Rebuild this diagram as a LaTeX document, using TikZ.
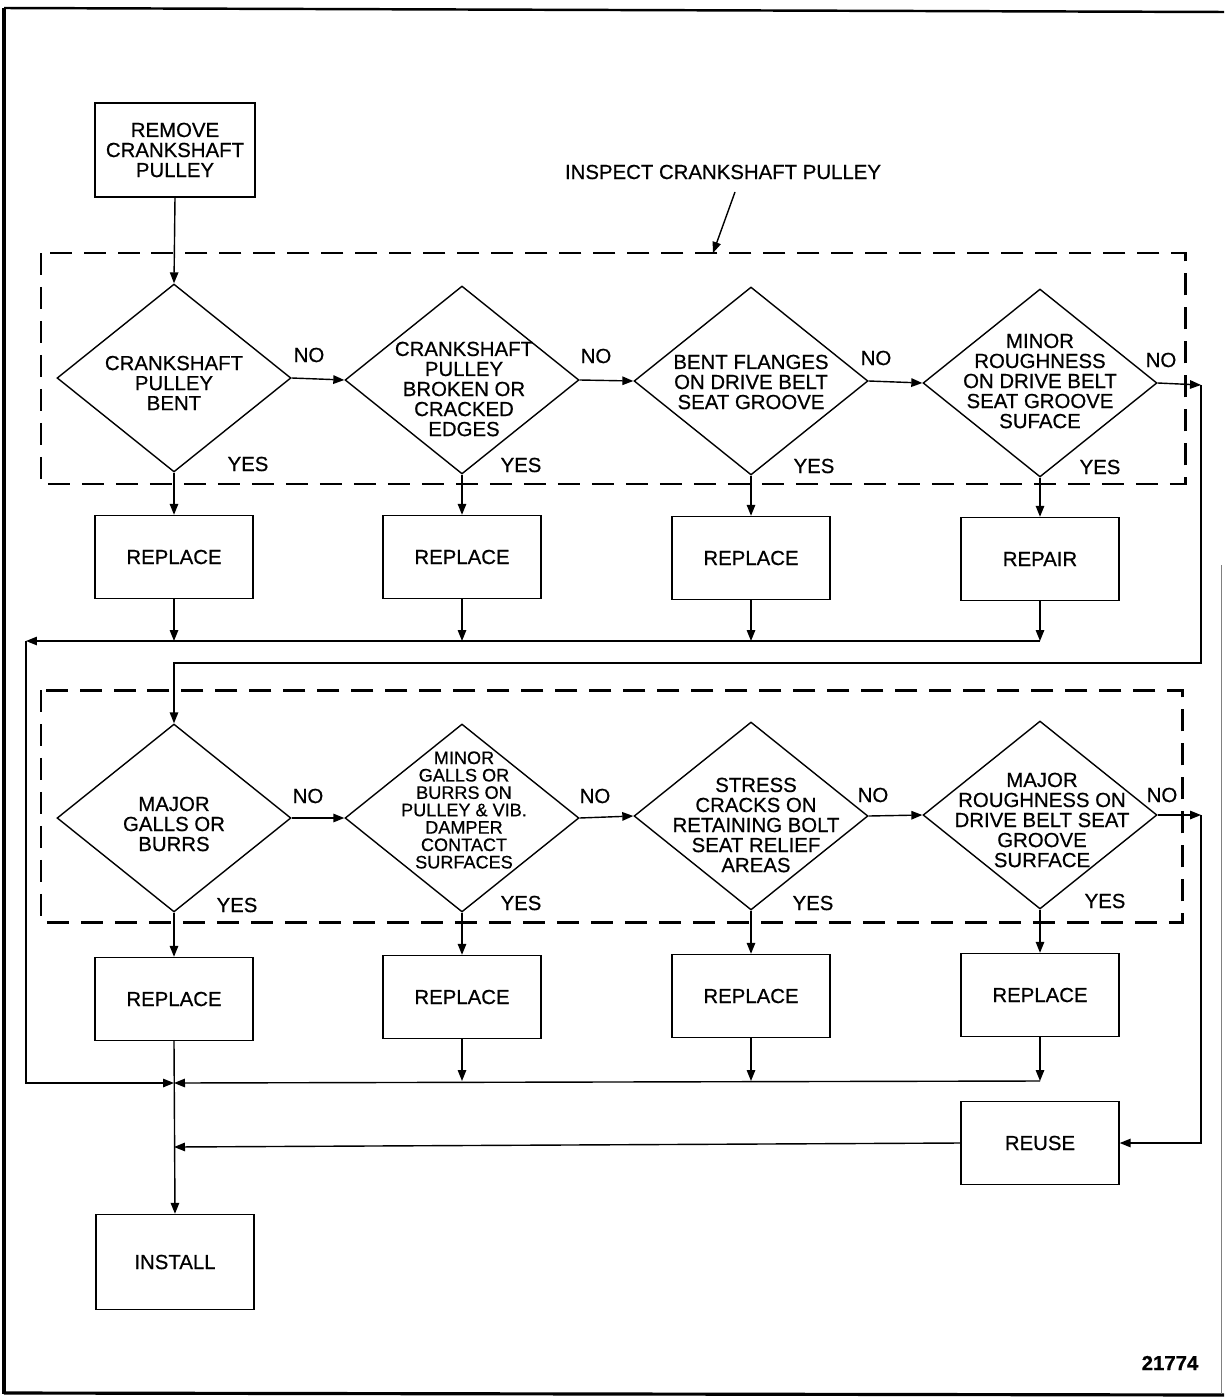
\documentclass[tikz,border=0pt]{standalone}
\usepackage{fontspec}
\setmainfont[FakeBold=0.6]{Liberation Sans}
\usetikzlibrary{shapes.geometric,arrows.meta}
\begin{document}
\begin{tikzpicture}[x=0.02cm,y=-0.02cm,
  every node/.style={inner sep=0pt, align=center, font=\fontsize{11.6}{11.4}\selectfont},
  smalltext/.style={font=\fontsize{10.3}{9.9}\selectfont},
  box/.style={draw, line width=0.8pt, minimum width=3.16cm, minimum height=1.66cm},
  dia/.style={draw, diamond, line width=0.8pt, minimum width=4.68cm, minimum height=3.76cm},
  line/.style={line width=0.8pt},
  arr/.style={line width=0.8pt, -{Triangle[length=2.2mm,width=1.7mm]}},
  dashbox/.style={line width=1.7pt, dash pattern=on 0.44cm off 0.24cm}]
\useasboundingbox (0,0) rectangle (1224,1399);

% outer frame
\draw[line width=2.2pt] (4,8) -- (4,1394);
\draw[line width=1.4pt] (4,8) -- (1224,12);
\draw[line width=1.8pt] (4,1393) -- (1224,1395);
\draw[gray, line width=0.5pt] (1221,565) -- (1221,1394);

% start
\node[box, minimum width=3.2cm, minimum height=1.88cm] (remove) at (175,150) {REMOVE\\CRANKSHAFT\\PULLEY};

% first inspection group
\node (insp) at (723,172) {INSPECT CRANKSHAFT PULLEY};
\coordinate (insptip) at (713,253);
\coordinate (inspfoot) at (735,192);
\draw[dashbox] (41,253) rectangle (1185,484);
\draw[arr] (inspfoot) -- (insptip);

\node[dia] (d1) at (174,378) {};
\node[dia] (d2) at (462,380) {};
\node[dia] (d3) at (751,381) {};
\node[dia] (d4) at (1040,383) {};
\node (t1) at (174,383) {CRANKSHAFT\\PULLEY\\BENT};
\node (t2) at (464,389) {CRANKSHAFT\\PULLEY\\BROKEN OR\\CRACKED\\EDGES};
\node (t3) at (751,382) {BENT FLANGES\\ON DRIVE BELT\\SEAT GROOVE};
\node (t4) at (1040,381) {MINOR\\ROUGHNESS\\ON DRIVE BELT\\SEAT GROOVE\\SUFACE};

\node (no1) at (309,355) {NO};
\node (no2) at (596,356) {NO};
\node (no3) at (876,358) {NO};
\node (no4) at (1161,360) {NO};
\node (yes1) at (248,464) {YES};
\node (yes2) at (521,465) {YES};
\node (yes3) at (814,466) {YES};
\node (yes4) at (1100,467) {YES};

\node[box] (r1) at (174,557) {REPLACE};
\node[box] (r2) at (462,557) {REPLACE};
\node[box] (r3) at (751,558) {REPLACE};
\node[box] (r4) at (1040,559) {REPAIR};

% second inspection group
\draw[dashbox] (41,690) rectangle (1182,922);

\node[dia] (d5) at (174,818) {};
\node[dia] (d6) at (462,818) {};
\node[dia] (d7) at (751,816) {};
\node[dia] (d8) at (1040,815) {};
\node (t5) at (174,824) {MAJOR\\GALLS OR\\BURRS};
\node[smalltext] (t6) at (464,810) {MINOR\\GALLS OR\\BURRS ON\\PULLEY \& VIB.\\DAMPER\\CONTACT\\SURFACES};
\node (t7) at (756,825) {STRESS\\CRACKS ON\\RETAINING BOLT\\SEAT RELIEF\\AREAS};
\node (t8) at (1042,820) {MAJOR\\ROUGHNESS ON\\DRIVE BELT SEAT\\GROOVE\\SURFACE};

\node (no5) at (308,796) {NO};
\node (no6) at (595,796) {NO};
\node (no7) at (873,795) {NO};
\node (no8) at (1162,795) {NO};
\node (yes5) at (237,905) {YES};
\node (yes6) at (521,903) {YES};
\node (yes7) at (813,903) {YES};
\node (yes8) at (1105,901) {YES};

\node[box] (r5) at (174,999) {REPLACE};
\node[box] (r6) at (462,997) {REPLACE};
\node[box] (r7) at (751,996) {REPLACE};
\node[box] (r8) at (1040,995) {REPLACE};

\node[box] (reuse) at (1040,1143) {REUSE};
\node[box, minimum height=1.9cm] (install) at (175,1262) {INSTALL};

\node[font=\bfseries\fontsize{11.6}{11.4}\selectfont] (fig) at (1170,1363) {21774};

% junction points
\coordinate (c1) at (1201,385);
\coordinate (c3) at (174,663);
\coordinate (j1) at (174,641);
\coordinate (j2) at (462,641);
\coordinate (j3) at (751,641);
\coordinate (j4) at (1040,641);
\coordinate (l1) at (26,641);
\coordinate (m1) at (174,1083);
\coordinate (j6) at (462,1081);
\coordinate (j7) at (751,1081);
\coordinate (j8) at (1040,1081);
\coordinate (c4) at (1201,815);
\coordinate (m2) at (174,1147);

% connectors, first group
\draw[arr] (remove.south) -- (d1.north);
\draw[arr] (d1.east) -- (d2.west);
\draw[arr] (d2.east) -- (d3.west);
\draw[arr] (d3.east) -- (d4.west);
\draw[arr] (d4.east) -- (c1);
\draw[arr] (c1) |- (c3) -- (d5.north);
\draw[arr] (d1.south) -- (r1.north);
\draw[arr] (d2.south) -- (r2.north);
\draw[arr] (d3.south) -- (r3.north);
\draw[arr] (d4.south) -- (r4.north);
\draw[arr] (r1.south) -- (j1);
\draw[arr] (r2.south) -- (j2);
\draw[arr] (r3.south) -- (j3);
\draw[arr] (r4.south) -- (j4);
\draw[arr] (j4) -- (l1);
\draw[arr] (l1) |- (m1);

% connectors, second group
\draw[arr] (d5.east) -- (d6.west);
\draw[arr] (d6.east) -- (d7.west);
\draw[arr] (d7.east) -- (d8.west);
\draw[arr] (d8.east) -- (c4);
\draw[arr] (c4) |- (reuse.east);
\draw[arr] (d5.south) -- (r5.north);
\draw[arr] (d6.south) -- (r6.north);
\draw[arr] (d7.south) -- (r7.north);
\draw[arr] (d8.south) -- (r8.north);
\draw[arr] (r6.south) -- (j6);
\draw[arr] (r7.south) -- (j7);
\draw[arr] (r8.south) -- (j8);
\draw[arr] (j8) -- (m1);
\draw[arr] (r5.south) -- (install.north);
\draw[arr] (reuse.west) -- (m2);
\end{tikzpicture}
\end{document}
